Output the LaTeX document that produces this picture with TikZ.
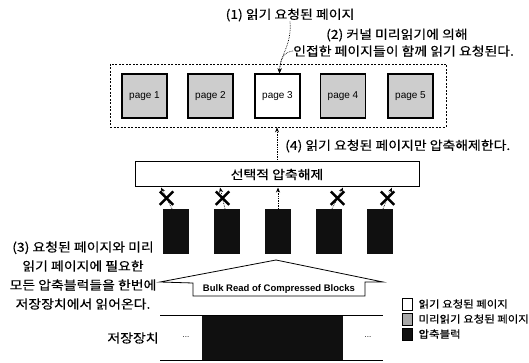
\documentclass[tikz,border=0pt]{standalone}
\usepackage{fontspec}
\newfontfamily\kr[FakeStretch=1.12, FakeBold=0.5]{Noto Sans CJK KR}
\setsansfont{Liberation Sans}
\usetikzlibrary{shapes.misc,arrows.meta,calc}
\definecolor{pagegray}{HTML}{CDCDCD}
\definecolor{keygray}{HTML}{A8A8A8}
\definecolor{blockblack}{HTML}{101010}

\begin{document}
\begin{tikzpicture}[x=1pt,y=-1pt,
  page/.style={draw, line width=1.3pt, minimum width=45pt, minimum height=44pt, inner sep=0pt,
    font=\sffamily\fontsize{10}{12}\selectfont},
  cblock/.style={fill=blockblack, minimum width=26pt, minimum height=45pt, inner sep=0pt},
  ktext/.style={font=\kr\fontsize{12.4}{14}\selectfont, inner sep=0pt},
  darr/.style={densely dotted, line width=0.7pt, -{Stealth[length=5pt,width=4pt]}},
  xmark/.style={cross out, draw, solid, line width=2.4pt, minimum size=11pt, inner sep=0pt},
  keybox/.style={draw, line width=0.8pt, minimum width=10pt, minimum height=12pt, inner sep=0pt},
  keytext/.style={font=\kr\fontsize{10.2}{12}\selectfont, anchor=west, inner sep=0pt}
]
  \useasboundingbox (0,0) rectangle (529,363);

  % Requested pages
  \node[draw, dashed, dash pattern=on 2pt off 1.5pt, line width=0.8pt,
    minimum width=336pt, minimum height=63pt] (frame) at (278,95.5) {};
  \foreach \i/\x/\f in {1/144.5/pagegray, 2/210.5/pagegray, 3/277.5/white, 4/343/pagegray, 5/410.5/pagegray}
    \node[page, fill=\f] (p\i) at (\x,96) {page \i};

  % Notes (1) and (2)
  \node[ktext] (t1) at (290,15) {(1) 읽기 요청된 페이지};
  \node[ktext, anchor=west] (t2) at (326,35) {(2) 커널 미리읽기에 의해};
  \node[ktext, anchor=west] (t2b) at (293,51) {인접한 페이지들이 함께 읽기 요청된다.};
  \draw[darr] (t1.south) .. controls (292,45) and (280,55) .. ([xshift=2]p3.north);
  \draw[darr] (t2b.west) .. controls (283,52) and (280,60) .. ([xshift=2]p3.north);

  % Selective decompression
  \node[draw, line width=1pt, minimum width=284pt, minimum height=25pt, ktext] (dec) at (277,174.5) {선택적 압축해제};
  \node[ktext, anchor=west] (t4) at (285,146) {(4) 읽기 요청된 페이지만 압축해제한다.};
  \draw[darr] (dec.north) -- (dec.north |- frame.south);

  % Compressed blocks
  \foreach \i/\x in {1/176, 2/227, 3/278, 4/329, 5/380}
    \node[cblock] (b\i) at (\x,231.5) {};
  \draw[darr] ([xshift=-4]b1.north) -- node[xmark] (x1) {} ([xshift=-15]b1.north |- dec.south);
  \draw[darr] ([xshift=-2]b2.north) -- node[xmark] (x2) {} ([xshift=-7]b2.north |- dec.south);
  \draw[darr] (b3.north) -- (b3.north |- dec.south);
  \draw[darr] ([xshift=3]b4.north) -- node[xmark] (x4) {} ([xshift=14]b4.north |- dec.south);
  \draw[darr] ([xshift=3]b5.north) -- node[xmark] (x5) {} ([xshift=12]b5.north |- dec.south);

  % Note (3)
  \node[ktext, align=center, font=\kr\fontsize{12.4}{19}\selectfont] (t3) at (83,275.5)
    {(3) 요청된 페이지와 미리\\읽기 페이지에 필요한\\모든 압축블럭들을 한번에\\저장장치에서 읽어온다.};

  % Bulk read
  \draw[line width=0.8pt, fill=white] (193,296) -- (193,283) -- (160,282) -- (276,260)
    -- (383,282) -- (365,282) -- (365,296) -- cycle;
  \node[font=\sffamily\bfseries\fontsize{9.5}{11}\selectfont, inner sep=0pt] (bulk) at (279,289.5) {Bulk Read of Compressed Blocks};

  % Storage
  \fill[blockblack] (202,315) rectangle (343,360);
  \draw[line width=1pt] (160,315) -- (383,315);
  \draw[line width=1pt] (160,360) -- (383,360);
  \node[ktext] (stor) at (133,338) {저장장치};
  \node[font=\sffamily\fontsize{8}{9}\selectfont, inner sep=0pt] (dl) at (186,337) {...};
  \node[font=\sffamily\fontsize{8}{9}\selectfont, inner sep=0pt] (dr) at (368,337) {...};

  % Legend
  \node[keybox, fill=white] (k1) at (407,304) {};
  \node[keybox, fill=keygray] (k2) at (407,319) {};
  \node[keybox, fill=blockblack] (k3) at (407,334) {};
  \node[keytext] (l1) at ([xshift=6]k1.east) {읽기 요청된 페이지};
  \node[keytext] (l2) at ([xshift=6]k2.east) {미리읽기 요청된 페이지};
  \node[keytext] (l3) at ([xshift=6]k3.east) {압축블럭};
\end{tikzpicture}
\end{document}
